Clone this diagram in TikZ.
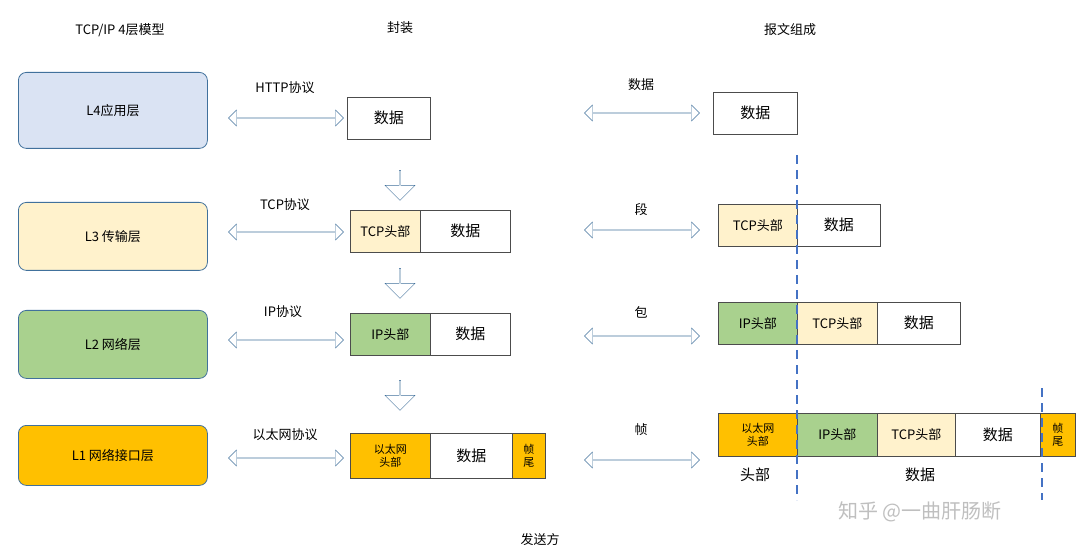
\documentclass[tikz,border=0pt]{standalone}
\usepackage{fontspec}
\setmainfont{Noto Sans CJK SC}
\usetikzlibrary{shapes.arrows}
\definecolor{appblue}{HTML}{DAE3F3}
\definecolor{tcpyel}{HTML}{FFF2CC}
\definecolor{ipgreen}{HTML}{A9D18E}
\definecolor{ethorg}{HTML}{FFC000}
\definecolor{arrline}{HTML}{41719C}
\definecolor{dashblue}{HTML}{4472C4}
\begin{document}
\begin{tikzpicture}[x=1pt,y=-1pt,font=\fontsize{13}{15}\selectfont]
    \tikzstyle{layer}=[draw=arrline,rounded corners=8pt,minimum width=189pt,line width=0.8pt,anchor=north west]
    \tikzstyle{cell}=[draw=black!70,line width=0.6pt,anchor=north west,inner sep=0pt,align=center]
    \tikzstyle{dbl}=[double arrow,draw=arrline,fill=white,minimum width=16pt,minimum height=115pt,double arrow head extend=3pt,inner sep=0pt]
    \tikzstyle{down}=[single arrow,draw=arrline,fill=white,rotate=-90,minimum width=30pt,minimum height=30pt,single arrow head extend=4pt,inner sep=0pt]
    \useasboundingbox (0,0) rectangle (1080,556);
    % headings
    \node (h1) at (120,30) {TCP/IP 4层模型};
    \node (h2) at (400,28) {封装};
    \node (h3) at (790,30) {报文组成};
    % layers
    \node [layer,fill=appblue,minimum height=76pt] (l4) at (18,72) {L4应用层};
    \node [layer,fill=tcpyel,minimum height=68pt] (l3) at (18,202) {L3 传输层};
    \node [layer,fill=ipgreen,minimum height=68pt] (l2) at (18,310) {L2 网络层};
    \node [layer,fill=ethorg,minimum height=60pt] (l1) at (18,425) {L1 网络接口层};
    % protocol arrows
    \node [dbl] (p4) at (286,118) {};
    \node [dbl] (p3) at (286,232) {};
    \node [dbl] (p2) at (286,340) {};
    \node [dbl] (p1) at (286,458) {};
    \node (t4) at (285,88) {HTTP协议};
    \node (t3) at (285,205) {TCP协议};
    \node (t2) at (283,312) {IP协议};
    \node (t1) at (285,435) {以太网协议};
    % encapsulation
    \node [cell,minimum width=83pt,minimum height=42pt] (e4d) at (347,97) {\fontsize{15}{17}\selectfont 数据};
    \node [cell,fill=tcpyel,minimum width=70pt,minimum height=42pt] (e3t) at (350,210) {TCP头部};
    \node [cell,minimum width=90pt,minimum height=42pt] (e3d) at (420,210) {\fontsize{15}{17}\selectfont 数据};
    \node [cell,fill=ipgreen,minimum width=80pt,minimum height=42pt] (e2i) at (350,313) {IP头部};
    \node [cell,minimum width=80pt,minimum height=42pt] (e2d) at (430,313) {\fontsize{15}{17}\selectfont 数据};
    \node [cell,fill=ethorg,minimum width=80pt,minimum height=45pt,font=\fontsize{11}{13}\selectfont] (e1e) at (350,433) {以太网\\头部};
    \node [cell,minimum width=82pt,minimum height=45pt] (e1d) at (430,433) {\fontsize{15}{17}\selectfont 数据};
    \node [cell,fill=ethorg,minimum width=33pt,minimum height=45pt,font=\fontsize{11}{13}\selectfont] (e1f) at (512,433) {帧\\尾};
    \node [down] (a43) at (400,185) {};
    \node [down] (a32) at (400,283) {};
    \node [down] (a21) at (400,395) {};
    % packet names
    \node [dbl] (q4) at (642,113) {};
    \node [dbl] (q3) at (642,230) {};
    \node [dbl] (q2) at (642,336) {};
    \node [dbl] (q1) at (642,460) {};
    \node (s4) at (641,85) {数据};
    \node (s3) at (641,210) {段};
    \node (s2) at (641,312) {包};
    \node (s1) at (641,430) {帧};
    % packet composition
    \node [cell,minimum width=84pt,minimum height=42pt] (r4d) at (713,92) {\fontsize{15}{17}\selectfont 数据};
    \node [cell,fill=tcpyel,minimum width=79pt,minimum height=42pt] (r3t) at (718,204) {TCP头部};
    \node [cell,minimum width=83pt,minimum height=42pt] (r3d) at (797,204) {\fontsize{15}{17}\selectfont 数据};
    \node [cell,fill=ipgreen,minimum width=79pt,minimum height=42pt] (r2i) at (718,302) {IP头部};
    \node [cell,fill=tcpyel,minimum width=80pt,minimum height=42pt] (r2t) at (797,302) {TCP头部};
    \node [cell,minimum width=83pt,minimum height=42pt] (r2d) at (877,302) {\fontsize{15}{17}\selectfont 数据};
    \node [cell,fill=ethorg,minimum width=79pt,minimum height=43pt,font=\fontsize{11}{13}\selectfont] (r1e) at (718,413) {以太网\\头部};
    \node [cell,fill=ipgreen,minimum width=80pt,minimum height=43pt] (r1i) at (797,413) {IP头部};
    \node [cell,fill=tcpyel,minimum width=78pt,minimum height=43pt] (r1t) at (877,413) {TCP头部};
    \node [cell,minimum width=85pt,minimum height=43pt] (r1d) at (955,413) {\fontsize{15}{17}\selectfont 数据};
    \node [cell,fill=ethorg,minimum width=35pt,minimum height=43pt,font=\fontsize{11}{13}\selectfont] (r1f) at (1040,413) {帧\\尾};
    \node (hd) at (755,475) {\fontsize{15}{17}\selectfont 头部};
    \node (dt) at (920,475) {\fontsize{15}{17}\selectfont 数据};
    % boundaries
    \coordinate (b1) at (797,155);
    \coordinate (b2) at (797,500);
    \coordinate (b3) at (1042,388);
    \coordinate (b4) at (1042,500);
    \draw [dashblue,line width=2pt,dash pattern=on 9pt off 6pt] (b1) -- (b2);
    \draw [dashblue,line width=2pt,dash pattern=on 9pt off 6pt] (b3) -- (b4);
    \node (snd) at (540,540) {发送方};
    \node [text=black!25,font=\fontsize{20}{22}\selectfont] (wm) at (920,512) {知乎 @一曲肝肠断};
\end{tikzpicture}
\end{document}
